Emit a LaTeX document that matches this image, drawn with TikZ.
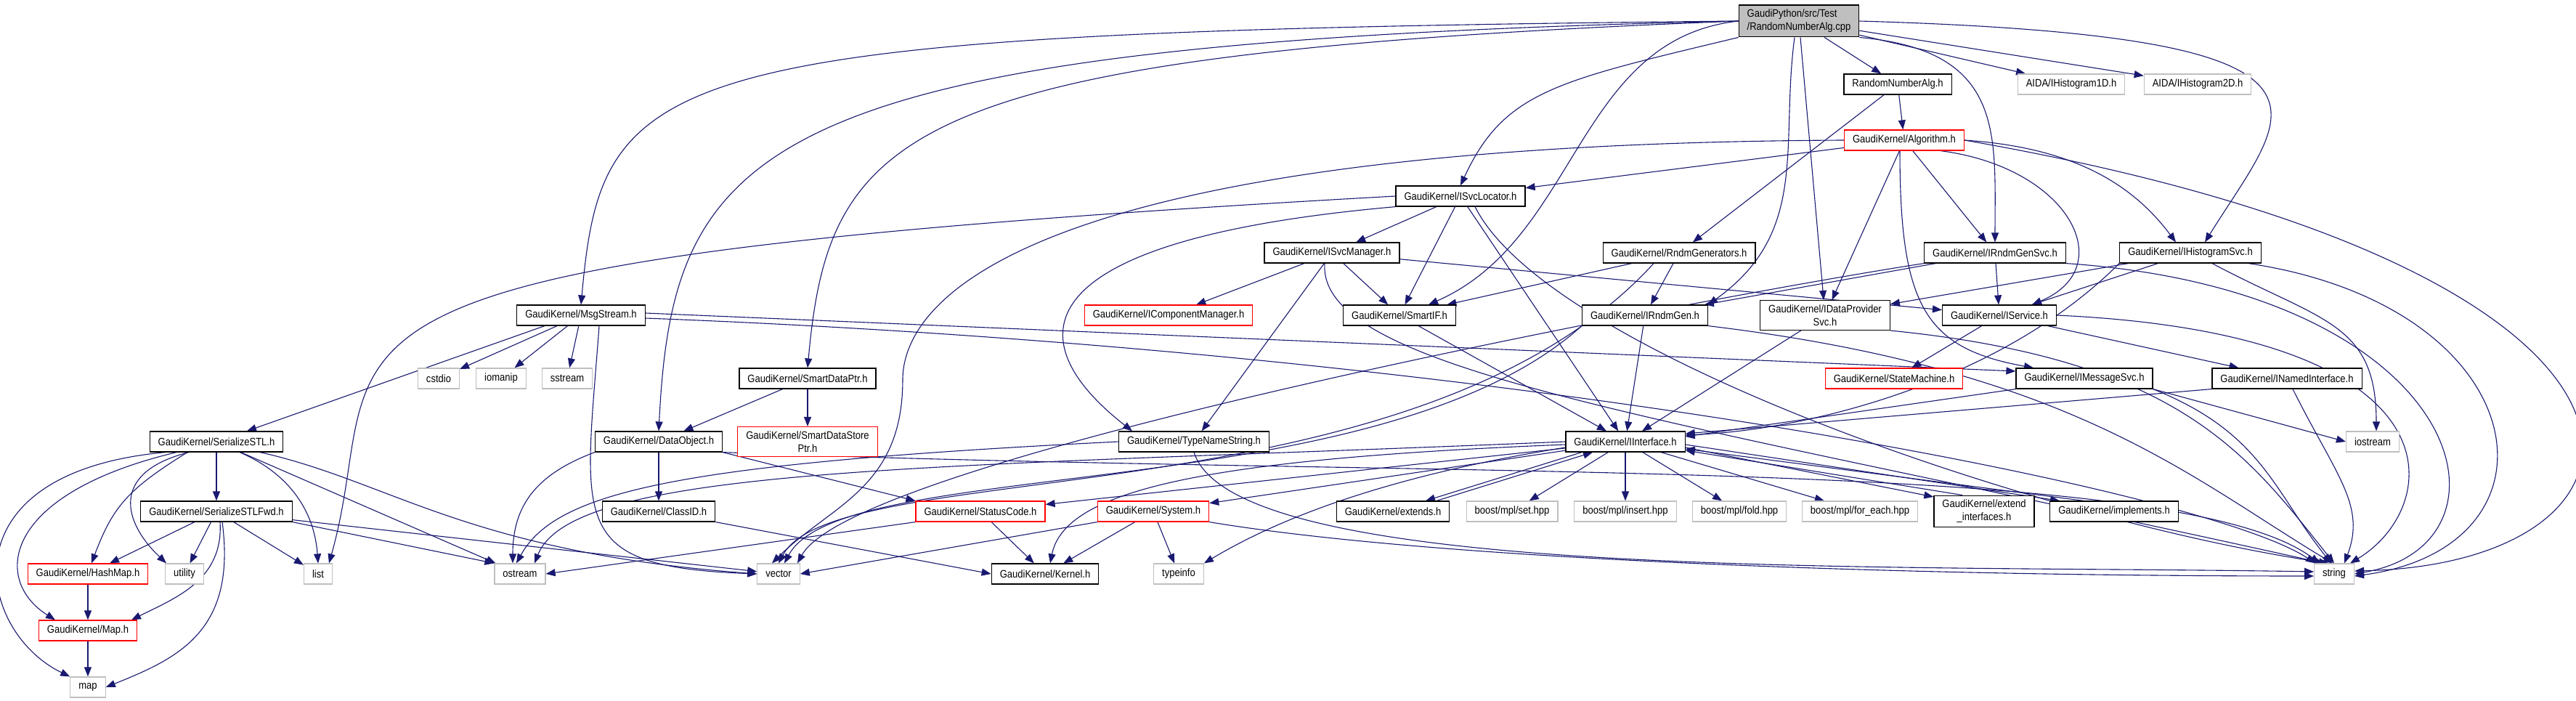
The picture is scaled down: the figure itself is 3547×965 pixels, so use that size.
\documentclass[tikz,border=0pt]{standalone}
\usepackage{fontspec}
\setmainfont{Liberation Sans}[FakeStretch=0.88]
\usetikzlibrary{arrows.meta}
\definecolor{edgeblue}{RGB}{25,25,112}
\definecolor{sysgray}{RGB}{191,191,191}
\pgfdeclarelayer{back}
\pgfsetlayers{back,main}

\begin{document}
\begin{tikzpicture}[x=1pt,y=1pt,
    filebox/.style={draw, fill=white, line width=1.2pt, inner xsep=11.5pt, inner ysep=6pt,
      minimum height=28pt, align=center, font=\fontsize{14.8}{18}\selectfont},
    hdr/.style={filebox, draw=black},
    sys/.style={filebox, draw=sysgray},
    trunc/.style={filebox, draw=red},
    rootbox/.style={filebox, draw=black, fill=sysgray, align=left},
    dep/.style={draw=edgeblue, line width=1.1pt, -{Triangle[length=13pt,width=10pt]}}]
  \useasboundingbox (0,0) rectangle (3547,-965);

  \node[rootbox] (root) at (2477,-29) {GaudiPython/src/Test\\/RandomNumberAlg.cpp};
  \node[hdr] (rnah) at (2613,-116) {RandomNumberAlg.h};
  \node[sys] (h1d) at (2852,-116) {AIDA/IHistogram1D.h};
  \node[sys] (h2d) at (3026,-116) {AIDA/IHistogram2D.h};
  \node[trunc] (alg) at (2622,-193) {GaudiKernel/Algorithm.h};
  \node[hdr] (svcloc) at (2011,-270) {GaudiKernel/ISvcLocator.h};
  \node[hdr] (svcmgr) at (1834,-348) {GaudiKernel/ISvcManager.h};
  \node[hdr] (rndmgens) at (2312,-348) {GaudiKernel/RndmGenerators.h};
  \node[hdr] (rndmsvc) at (2747,-348) {GaudiKernel/IRndmGenSvc.h};
  \node[hdr] (histsvc) at (3016,-348) {GaudiKernel/IHistogramSvc.h};
  \node[hdr] (msgstream) at (800,-434) {GaudiKernel/MsgStream.h};
  \node[trunc] (compmgr) at (1609,-434) {GaudiKernel/IComponentManager.h};
  \node[hdr] (smartif) at (1927,-434) {GaudiKernel/SmartIF.h};
  \node[hdr] (rndmgen) at (2265,-434) {GaudiKernel/IRndmGen.h};
  \node[hdr] (dataprov) at (2513,-434) {GaudiKernel/IDataProvider\\Svc.h};
  \node[hdr] (service) at (2753,-434) {GaudiKernel/IService.h};
  \node[sys] (cstdio) at (604,-521) {cstdio};
  \node[sys] (iomanip) at (690,-521) {iomanip};
  \node[sys] (sstream) at (781,-521) {sstream};
  \node[hdr] (smartptr) at (1112,-521) {GaudiKernel/SmartDataPtr.h};
  \node[trunc] (statem) at (2608,-521) {GaudiKernel/StateMachine.h};
  \node[hdr] (msgsvc) at (2870,-521) {GaudiKernel/IMessageSvc.h};
  \node[hdr] (namedif) at (3149,-521) {GaudiKernel/INamedInterface.h};
  \node[hdr] (serstl) at (298,-608) {GaudiKernel/SerializeSTL.h};
  \node[hdr] (dataobj) at (907,-608) {GaudiKernel/DataObject.h};
  \node[trunc] (storeptr) at (1112,-608) {GaudiKernel/SmartDataStore\\Ptr.h};
  \node[hdr] (typename) at (1644,-608) {GaudiKernel/TypeNameString.h};
  \node[hdr] (iif) at (2238,-608) {GaudiKernel/IInterface.h};
  \node[sys] (iostream) at (3267,-608) {iostream};
  \node[hdr] (serfwd) at (298,-704) {GaudiKernel/SerializeSTLFwd.h};
  \node[hdr] (classid) at (907,-704) {GaudiKernel/ClassID.h};
  \node[trunc] (statcode) at (1350,-704) {GaudiKernel/StatusCode.h};
  \node[trunc] (system) at (1588,-704) {GaudiKernel/System.h};
  \node[hdr] (extends) at (1918,-704) {GaudiKernel/extends.h};
  \node[sys] (mplset) at (2082,-704) {boost/mpl/set.hpp};
  \node[sys] (mplins) at (2238,-704) {boost/mpl/insert.hpp};
  \node[sys] (mplfold) at (2395,-704) {boost/mpl/fold.hpp};
  \node[sys] (mplfe) at (2561,-704) {boost/mpl/for\_each.hpp};
  \node[hdr] (extif) at (2732,-704) {GaudiKernel/extend\\\_interfaces.h};
  \node[hdr] (impl) at (2911,-704) {GaudiKernel/implements.h};
  \node[trunc] (hashmap) at (121,-790) {GaudiKernel/HashMap.h};
  \node[sys] (utility) at (254,-790) {utility};
  \node[sys] (list) at (438,-790) {list};
  \node[sys] (ostream) at (716,-790) {ostream};
  \node[sys] (vector) at (1072,-790) {vector};
  \node[hdr] (kernel) at (1439,-790) {GaudiKernel/Kernel.h};
  \node[sys] (typeinfo) at (1623,-790) {typeinfo};
  \node[sys] (string) at (3214,-790) {string};
  \node[trunc] (maph) at (121,-868) {GaudiKernel/Map.h};
  \node[sys] (map) at (121,-946) {map};

  \begin{pgfonlayer}{back}
  \foreach \a/\b in {root/rnah, root/dataprov, root/h1d, root/h2d, rnah/alg, rnah/rndmgens,
      alg/svcloc, alg/dataprov, alg/rndmsvc, svcloc/svcmgr, svcloc/smartif, svcloc/iif,
      svcmgr/compmgr, svcmgr/smartif, svcmgr/service, svcmgr/typename, rndmgens/smartif,
      rndmgens/rndmgen, rndmsvc/rndmgen, rndmsvc/service, histsvc/dataprov, histsvc/service,
      msgstream/cstdio, msgstream/iomanip, msgstream/sstream,
      smartptr/dataobj, smartptr/storeptr, dataobj/classid, serstl/serfwd, serstl/ostream,
      serfwd/hashmap, serfwd/utility, serfwd/list, serfwd/vector, hashmap/maph, maph/map,
      iif/mplset, iif/mplins, iif/mplfold, iif/mplfe, iif/statcode, iif/system,
      system/kernel, system/typeinfo, statcode/kernel, service/statem, service/namedif,
      dataprov/iif, rndmgen/iif, smartif/iif}
    \draw[dep] (\a) -- (\b);

  \draw[dep] (root.west) .. controls +(-1500,-15) and +(30,330) .. (msgstream.north);
  \draw[dep] (root.west) .. controls +(-1350,-30) and +(20,400) .. (dataobj.north);
  \draw[dep] (root.west) .. controls +(-1150,-45) and +(30,330) .. (smartptr.north);
  \draw[dep] (root.south west) .. controls +(-250,-60) and +(60,130) .. (svcloc.north);
  \draw[dep] (root.west) .. controls +(-224,-25) and +(207,91) .. ([xshift=40pt]smartif.north);
  \draw[dep] ([xshift=-6pt]root.south) .. controls +(-20,-150) and +(140,100) .. (rndmgen.north east);
  \draw[dep] (root.south east) .. controls +(200,-18) and +(0,150) .. (rndmsvc.north);
  \draw[dep] (root.east) .. controls +(720,-21) and +(114,184) .. ([xshift=20pt]histsvc.north);

  \draw[dep] (alg.west) .. controls +(-1100,-5) and +(0,120) .. ++(-1296,-330)
    .. controls +(0,-150) and +(80,80) .. ([xshift=-9pt]vector.north);
  \draw[dep] ([xshift=-6pt]alg.south) .. controls +(0,-213) and +(-150,27) .. ([xshift=-70pt]msgsvc.north);
  \draw[dep] ([xshift=50pt]alg.south) .. controls +(178,-23) and +(122,51) .. ([xshift=45pt]service.north);
  \draw[dep] (alg.east) .. controls +(150,-10) and +(-60,80) .. ([xshift=-20pt]histsvc.north);
  \draw[dep] (alg.east) .. controls +(1047,-182) and +(459,10) .. ([yshift=4pt]string.east);

  \draw[dep] (svcloc.west) .. controls +(-1621,-90) and +(92,326) .. ([xshift=15pt]list.north);
  \draw[dep] (svcloc.south west) .. controls +(-521,-46) and +(-159,124) .. ([xshift=-85pt]typename.north);
  \draw[dep] ([xshift=20pt]svcloc.south) .. controls +(100,-200) and +(-400,60) .. ([xshift=20pt]string.north west);
  \draw[dep] ([xshift=-10pt]svcmgr.south) .. controls +(-10,-150) and +(-900,200) .. ([xshift=14pt]string.north west);

  \draw[dep] ([xshift=-35pt]rndmgens.south) .. controls +(-327,-358) and +(80,150) .. (vector.north);
  \draw[dep] (rndmgen.south west) .. controls +(-280,-252) and +(80,150) .. ([xshift=8pt]vector.north);
  \draw[dep] (rndmgen.south east) .. controls +(500,-60) and +(-200,120) .. ([xshift=26pt]string.north west);
  \draw[dep] (rndmsvc.south west) .. controls +(-300,-46) and +(80,146) .. ([xshift=26pt]vector.north);
  \draw[dep] (rndmsvc.south east) .. controls +(556,-38) and +(239,40) .. (string.east);

  \draw[dep] (histsvc.south west) .. controls +(-158,-158) and +(181,8) .. ([yshift=9pt]iif.east);
  \draw[dep] ([xshift=30pt]histsvc.south) .. controls +(150,-80) and +(0,150) .. ([xshift=5pt]iostream.north);
  \draw[dep] ([xshift=80pt]histsvc.south) .. controls +(400,-60) and +(300,40) .. ([yshift=-3pt]string.east);

  \draw[dep] ([xshift=-50pt]msgstream.south) -- ([xshift=42pt]serstl.north);
  \draw[dep] ([xshift=25pt]msgstream.south) .. controls +(-20,-272) and +(-263,10) .. (vector.west);
  \draw[dep] ([yshift=3pt]msgstream.east) -- ([yshift=10pt]msgsvc.west);
  \draw[dep] ([yshift=-4pt]msgstream.east) .. controls +(1200,-46) and +(-150,100) .. ([xshift=2pt]string.north west);

  \draw[dep] (dataobj.south west) .. controls +(-80,-30) and +(0,80) .. ([xshift=-10pt]ostream.north);
  \draw[dep] (dataobj.south east) -- (statcode.north west);
  \draw[dep] (dataobj.south east) .. controls +(1000,-38) and +(-200,150) .. ([xshift=8pt]string.north west);

  \draw[dep] ([xshift=-70pt]serstl.south) .. controls +(-308,-28) and +(-128,62) .. (map.north west);
  \draw[dep] ([xshift=-55pt]serstl.south) .. controls +(-243,-58) and +(-86,54) .. ([xshift=-45pt]maph.north);
  \draw[dep] ([xshift=-40pt]serstl.south) .. controls +(-80,-50) and +(30,80) .. ([xshift=5pt]hashmap.north);
  \draw[dep] ([xshift=-38pt]serstl.south) .. controls +(-110,-28) and +(-59,56) .. ([xshift=-25pt]utility.north);
  \draw[dep] ([xshift=32pt]serstl.south) .. controls +(70,-30) and +(-5,70) .. (list.north);
  \draw[dep] ([xshift=60pt]serstl.south) .. controls +(180,-40) and +(-400,30) .. (vector.west);
  \draw[dep] ([xshift=5pt]serfwd.south) .. controls +(5,-80) and +(60,30) .. ([xshift=60pt]maph.north);
  \draw[dep] ([xshift=8pt]serfwd.south) .. controls +(20,-150) and +(100,40) .. (map.east);
  \draw[dep] (serfwd.south east) -- (ostream.north west);

  \draw[dep] (typename.west) .. controls +(-600,-30) and +(55,100) .. ([xshift=-5pt]ostream.north);
  \draw[dep] (typename.south) .. controls +(56,-178) and +(-600,10) .. ([yshift=3pt]string.west);
  \draw[dep] ([yshift=-4pt]iif.west) .. controls +(-500,-20) and +(20,100) .. ([xshift=7pt]kernel.north);
  \draw[dep] ([yshift=-8pt]iif.west) .. controls +(-250,-40) and +(100,60) .. (typeinfo.north east);
  \draw[dep] (iif.west) .. controls +(-856,-36) and +(54,136) .. ([xshift=20pt]ostream.north);
  \draw[dep] ([xshift=-60pt]iif.south) -- ([xshift=45pt]extends.north);
  \draw[dep] ([xshift=60pt]extends.north) -- ([xshift=-45pt]iif.south);
  \draw[dep] ([yshift=-8pt]iif.east) -- ([yshift=20pt]extif.west);
  \draw[dep] ([xshift=-30pt]extif.north) -- ([yshift=-12pt]iif.east);
  \draw[dep] ([yshift=-4pt]iif.east) -- ([xshift=-75pt]impl.north);
  \draw[dep] ([xshift=-42pt]impl.north) -- ([yshift=-10pt]iif.east);
  \draw[dep] (system.south east) .. controls +(300,-50) and +(-600,0) .. ([yshift=-3pt]string.west);
  \draw[dep] (system.south west) -- (vector.east);
  \draw[dep] (statcode.south west) -- (ostream.east);
  \draw[dep] (classid.south east) -- (kernel.west);

  \draw[dep] (service.east) .. controls +(569,-26) and +(126,76) .. ([xshift=22pt]string.north);
  \draw[dep] ([xshift=8pt]namedif.south) .. controls +(60,-120) and +(30,80) .. ([xshift=14pt]string.north);
  \draw[dep] (namedif.south west) -- ([yshift=11pt]iif.east);
  \draw[dep] (msgsvc.south west) -- ([yshift=7pt]iif.east);
  \draw[dep] (msgsvc.south east) .. controls +(150,-60) and +(-80,100) .. ([xshift=-4pt]string.north);
  \draw[dep] (msgsvc.south east) -- (iostream.west);
  \draw[dep] (dataprov.south east) .. controls +(400,-40) and +(-120,150) .. (string.north);
  \end{pgfonlayer}
\end{tikzpicture}
\end{document}
